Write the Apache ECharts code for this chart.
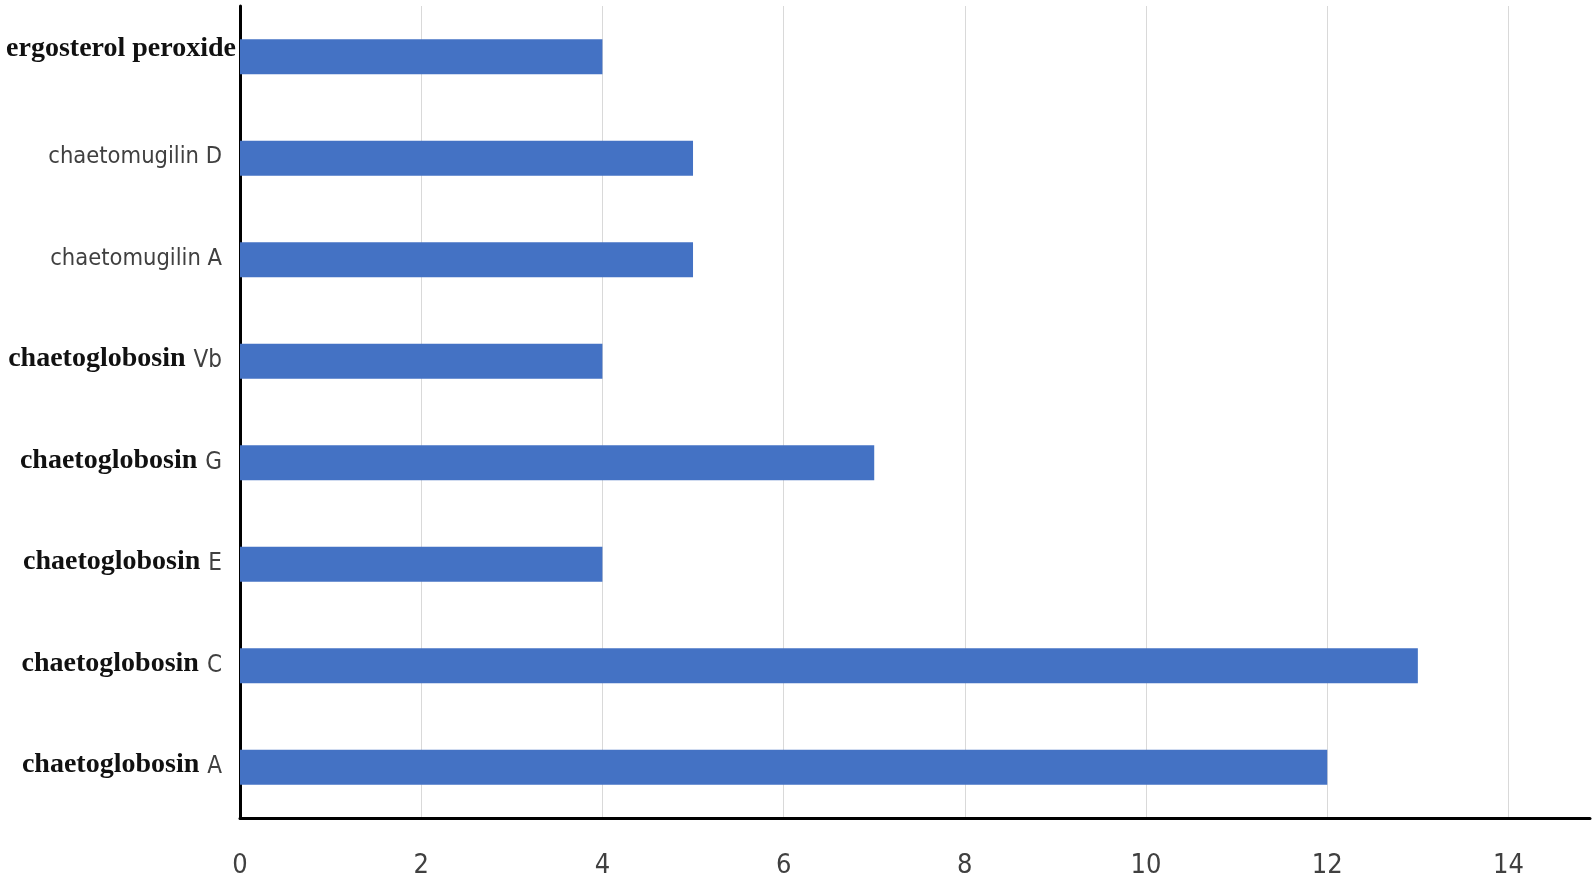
<!DOCTYPE html>
<html>
<head>
<meta charset="utf-8">
<script src="https://cdn.jsdelivr.net/npm/echarts@6/dist/echarts.min.js"></script>
<style>
html,body{margin:0;padding:0;background:#fff;}
#chart{width:1595px;height:884px;}
</style>
</head>
<body>
<div id="chart"></div>
<script>
const categories = ['ergosterol peroxide','chaetomugilin D','chaetomugilin A','chaetoglobosin Vb','chaetoglobosin G','chaetoglobosin E','chaetoglobosin C','chaetoglobosin A'];
const values = [4,5,5,4,7,4,13,12];
const xTicks = [0,2,4,6,8,10,12,14];

const SANS = "'DejaVu Sans Condensed', 'Liberation Sans', sans-serif";
const chart = echarts.init(document.getElementById('chart'));
chart.setOption({
  backgroundColor:'#fff',
  animation:false,
  grid:{left:240,right:5,top:6,bottom:66,containLabel:false,outerBoundsMode:'none'},
  xAxis:{
    type:'value',min:0,max:14.9,interval:2,
    axisLine:{show:true,lineStyle:{color:'#000',width:3}},
    axisTick:{show:false},
    splitLine:{show:true,showMinLine:false,showMaxLine:false,lineStyle:{color:'#d9d9d9',width:1}},
    axisLabel:{showMaxLabel:false,margin:34,fontFamily:SANS,fontSize:27,color:'#404040',
      formatter:v=>xTicks.includes(v)?String(v):''}
  },
  yAxis:{
    type:'category',data:categories,inverse:true,
    axisLine:{show:true,lineStyle:{color:'#000',width:3}},
    axisTick:{show:false},
    axisLabel:{margin:4,
      formatter:function(v){
        if(v.indexOf('ergosterol')===0) return '{e|'+v+'}';
        if(v.indexOf('chaetomugilin')===0) return '{m|'+v+'}';
        const parts=v.split(' ');
        return '{s|'+parts[0]+'}{t|'+parts[1]+'}';
      },
      rich:{
        e:{fontFamily:'Liberation Serif',fontWeight:'bold',fontSize:28,color:'#111',padding:[0,0,16,0]},
        m:{fontFamily:SANS,fontSize:23.5,color:'#404040',padding:[0,14,2,0]},
        s:{fontFamily:'Liberation Serif',fontWeight:'bold',fontSize:28,color:'#111',padding:[0,8,4,0]},
        t:{fontFamily:SANS,fontSize:24,color:'#404040',padding:[0,14,0,0]}
      }
    }
  },
  series:[{
    type:'bar',data:values,barWidth:35,
    itemStyle:{color:'#4472C4'}
  }]
});
</script>
</body>
</html>
